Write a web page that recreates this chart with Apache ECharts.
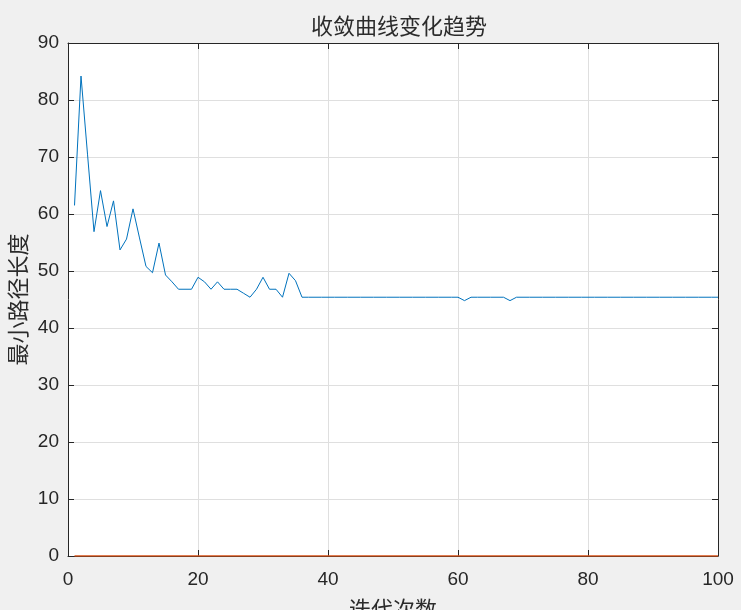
<!DOCTYPE html>
<html>
<head>
<meta charset="utf-8">
<script src="https://cdn.jsdelivr.net/npm/echarts@6/dist/echarts.min.js"></script>
<style>
html,body{margin:0;padding:0;background:#F0F0F0;}
#chart{width:741px;height:610px;}
</style>
</head>
<body>
<div id="chart"></div>
<script>
var titleText = '收敛曲线变化趋势';
var xName = '迭代次数';
var yName = '最小路径长度';
var iterations = [];
var bestLength = [
  61.5, 84.2, 70.5, 56.9, 64.1, 57.8, 62.3, 53.7, 55.6, 60.9,
  55.8, 50.8, 49.7, 54.9, 49.3, 48.1, 46.8, 46.8, 46.8, 48.9,
  48.1, 46.8, 48.1, 46.8, 46.8, 46.8, 46.1, 45.4, 46.8, 48.9,
  46.8, 46.8, 45.4, 49.6, 48.3, 45.4, 45.4, 45.4, 45.4, 45.4,
  45.4, 45.4, 45.4, 45.4, 45.4, 45.4, 45.4, 45.4, 45.4, 45.4,
  45.4, 45.4, 45.4, 45.4, 45.4, 45.4, 45.4, 45.4, 45.4, 45.4,
  44.8, 45.4, 45.4, 45.4, 45.4, 45.4, 45.4, 44.8, 45.4, 45.4,
  45.4, 45.4, 45.4, 45.4, 45.4, 45.4, 45.4, 45.4, 45.4, 45.4,
  45.4, 45.4, 45.4, 45.4, 45.4, 45.4, 45.4, 45.4, 45.4, 45.4,
  45.4, 45.4, 45.4, 45.4, 45.4, 45.4, 45.4, 45.4, 45.4, 45.4
];
var secondSeries = [
  0,0,0,0,0,0,0,0,0,0, 0,0,0,0,0,0,0,0,0,0,
  0,0,0,0,0,0,0,0,0,0, 0,0,0,0,0,0,0,0,0,0,
  0,0,0,0,0,0,0,0,0,0, 0,0,0,0,0,0,0,0,0,0,
  0,0,0,0,0,0,0,0,0,0, 0,0,0,0,0,0,0,0,0,0,
  0,0,0,0,0,0,0,0,0,0, 0,0,0,0,0,0,0,0,0,0
];
for (var i = 0; i < bestLength.length; i++) iterations.push(i + 1);
var xTicks = [0, 20, 40, 60, 80, 100];
var yTicks = [0, 10, 20, 30, 40, 50, 60, 70, 80, 90];

var numFont = 'Liberation Sans, Arial, sans-serif';
var cjkFont = 'Noto Sans CJK SC, sans-serif';

function pairs(xs, ys) { return xs.map(function (x, k) { return [x, ys[k]]; }); }

var chart = echarts.init(document.getElementById('chart'), null, {renderer: 'canvas'});
var axisLine = {show: true, onZero: false, lineStyle: {color: '#262626', width: 1}};
var tick = {show: true, inside: true, length: 6, lineStyle: {color: '#262626'}};
chart.setOption({
  backgroundColor: '#F0F0F0',
  animation: false,
  title: {
    text: titleText, left: 394, top: 10, textAlign: 'center',
    textStyle: {fontFamily: cjkFont, fontSize: 22, fontWeight: 'normal', color: '#2b2b2b'}
  },
  grid: {left: 68, top: 43, right: 23, bottom: 54, show: true, backgroundColor: '#ffffff',
         borderWidth: 0, containLabel: false, outerBoundsMode: 'none'},
  xAxis: [{
    type: 'value', min: xTicks[0], max: xTicks[xTicks.length - 1], interval: 20,
    axisLine: axisLine, axisTick: tick,
    axisLabel: {fontFamily: numFont, fontSize: 19, color: '#262626', margin: 14},
    splitLine: {show: true, lineStyle: {color: '#DFDFDF', width: 1}},
    name: xName, nameLocation: 'middle', nameGap: 42, nameMoveOverlap: false,
    nameTextStyle: {fontFamily: cjkFont, fontSize: 22, color: '#2b2b2b'}
  }, {
    type: 'value', position: 'top', min: 0, max: 100, interval: 20,
    axisLine: axisLine, axisTick: tick, axisLabel: {show: false}, splitLine: {show: false}
  }],
  yAxis: [{
    type: 'value', min: yTicks[0], max: yTicks[yTicks.length - 1], interval: 10,
    axisLine: axisLine, axisTick: tick,
    axisLabel: {fontFamily: numFont, fontSize: 19, color: '#262626', margin: 9},
    splitLine: {show: true, lineStyle: {color: '#DFDFDF', width: 1}},
    name: yName, nameLocation: 'middle', nameGap: 39, nameMoveOverlap: false,
    nameTextStyle: {fontFamily: cjkFont, fontSize: 22, color: '#2b2b2b'}
  }, {
    type: 'value', position: 'right', min: 0, max: 90, interval: 10,
    axisLine: axisLine, axisTick: tick, axisLabel: {show: false}, splitLine: {show: false}
  }],
  series: [{
    type: 'line', data: pairs(iterations, bestLength), showSymbol: false,
    lineStyle: {color: '#0072BD', width: 1}, z: 3
  }, {
    type: 'line', data: pairs(iterations, secondSeries), showSymbol: false,
    lineStyle: {color: '#D95319', width: 1.5}, z: 4
  }]
});
</script>
</body>
</html>
